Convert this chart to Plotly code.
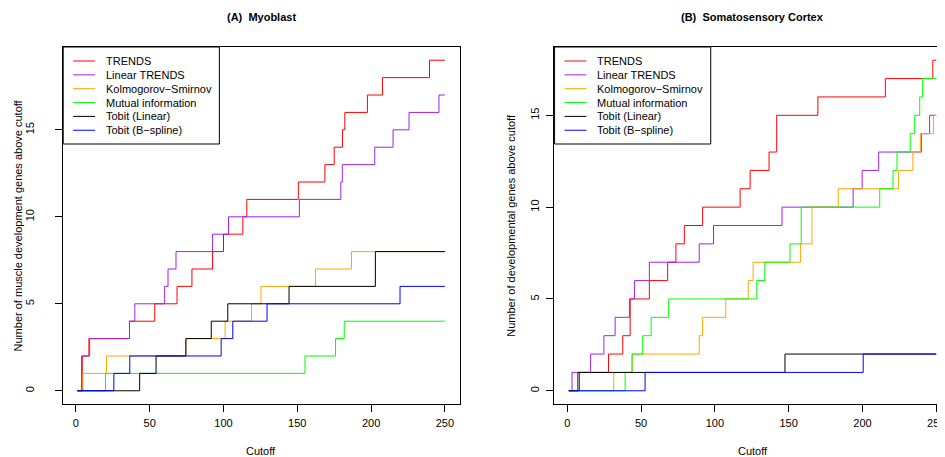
import plotly.graph_objects as go

# ---------------- data ----------------
series_names = ["TRENDS", "Linear TRENDS", "Kolmogorov\u2212Smirnov",
                "Mutual information", "Tobit (Linear)", "Tobit (B\u2212spline)"]
series_colors = ["#FF0000", "#A020F0", "#FFA500", "#00FF00", "#000000", "#0000FF"]

# Panel A: Myoblast  (cutoff at which count changes, count)
a_trends_x = [1, 4.3, 8.8, 36.3, 53.4, 68.5, 78.6, 92.6, 100, 113.1, 115.8, 150.7, 168.7, 175, 180.6, 182.2, 197.5, 207.7, 239.6, 250]
a_trends_y = [0, 2, 3, 4, 5, 6, 7, 8, 9, 10, 11, 12, 13, 14, 15, 16, 17, 18, 19, 19]
a_lintrends_x = [1, 3.8, 9.3, 36.3, 39.9, 60.1, 62.4, 67.8, 92.6, 103.4, 151.4, 179.5, 180.5, 202.5, 214.9, 225.7, 246, 250]
a_lintrends_y = [0, 2, 3, 4, 5, 6, 7, 8, 9, 10, 11, 12, 13, 14, 15, 16, 17, 17]
a_ks_x = [1, 4.7, 20.7, 74.5, 101.1, 119, 125.4, 162.4, 186.7, 250]
a_ks_y = [0, 1, 2, 3, 4, 5, 6, 7, 8, 8]
a_mi_x = [1, 20, 155.2, 175.9, 181.8, 250]
a_mi_y = [0, 1, 2, 3, 4, 4]
a_tobitlin_x = [1, 43.2, 54.3, 74.5, 91.7, 102.9, 144.4, 202.9, 250]
a_tobitlin_y = [0, 1, 2, 3, 4, 5, 6, 8, 8]
a_tobitbs_x = [1, 25.7, 36.5, 98.4, 106.3, 129.5, 219.6, 250]
a_tobitbs_y = [0, 1, 2, 3, 4, 5, 6, 6]

# Panel B: Somatosensory Cortex
b_trends_x = [1, 8.3, 27.9, 37.6, 42.6, 55.6, 68, 73.6, 79.3, 91.7, 117.1, 123.9, 136.7, 141.9, 169.8, 215.5, 247.7, 250]
b_trends_y = [0, 1, 2, 3, 5, 6, 7, 8, 9, 10, 11, 12, 13, 15, 16, 17, 18, 18]
b_lintrends_x = [1, 3.2, 15.8, 24.8, 32.4, 42.1, 45.5, 55.6, 89.4, 99.1, 145.5, 193.7, 199.8, 211, 239.9, 245.5, 250]
b_lintrends_y = [0, 1, 2, 3, 4, 5, 6, 7, 8, 9, 10, 11, 12, 13, 14, 15, 15]
b_ks_x = [1, 31.5, 43.9, 89.4, 91.7, 107.4, 122.6, 125.9, 158.1, 165.8, 183.6, 224.5, 234.2, 239.2, 248.2, 250]
b_ks_y = [0, 1, 2, 3, 4, 5, 6, 7, 8, 10, 11, 12, 13, 14, 15, 15]
b_mi_x = [1, 39.2, 43.9, 51.1, 56.8, 68.7, 128.4, 133.8, 150.9, 158.5, 211.7, 220.7, 223.4, 232.4, 235.4, 238.8, 240.8, 250]
b_mi_y = [0, 1, 2, 3, 4, 5, 6, 7, 8, 10, 11, 12, 13, 14, 15, 16, 17, 17]
b_tobitlin_x = [1, 7.2, 147.5, 250]
b_tobitlin_y = [0, 1, 2, 2]
b_tobitbs_x = [1, 52.7, 200.5, 250]
b_tobitbs_y = [0, 1, 2, 2]

x_ticks = [0, 50, 100, 150, 200, 250]
y_ticks = [0, 5, 10, 15]
panel_titles = ["<b>(A)\u00a0 Myoblast</b>", "<b>(B)\u00a0 Somatosensory Cortex</b>"]
y_titles = ["Number of muscle development genes above cutoff",
            "Number of developmental genes above cutoff"]
x_title = "Cutoff"

panel_a = [(a_trends_x, a_trends_y), (a_lintrends_x, a_lintrends_y), (a_ks_x, a_ks_y),
           (a_mi_x, a_mi_y), (a_tobitlin_x, a_tobitlin_y), (a_tobitbs_x, a_tobitbs_y)]
panel_b = [(b_trends_x, b_trends_y), (b_lintrends_x, b_lintrends_y), (b_ks_x, b_ks_y),
           (b_mi_x, b_mi_y), (b_tobitlin_x, b_tobitlin_y), (b_tobitbs_x, b_tobitbs_y)]

# ---------------- layout geometry ----------------
PAGE_W, PAGE_H = 945, 457
OFF = 8  # default page body margin
W, H = PAGE_W - OFF, PAGE_H - OFF
FONT = "Liberation Sans, Arial, Helvetica, sans-serif"


def px(x):
    """page pixel x -> paper fraction"""
    return (x - OFF) / W


def py(y):
    """page pixel y -> paper fraction"""
    return 1 - (y - OFF) / H


box_top, box_bot = 47, 404
a_left, a_right = 63, 462
b_left = 557
b_width = 399
scale = b_width / (259.96 + 8.96)

fig = go.Figure()
for (xs, ys), name, col in zip(panel_a, series_names, series_colors):
    fig.add_trace(go.Scatter(x=xs, y=ys, mode="lines", name=name, showlegend=False,
                             line=dict(color=col, width=1, shape="hv"),
                             xaxis="x", yaxis="y", hoverinfo="skip"))
for (xs, ys), name, col in zip(panel_b, series_names, series_colors):
    fig.add_trace(go.Scatter(x=xs, y=ys, mode="lines", name=name, showlegend=False,
                             line=dict(color=col, width=1, shape="hv"),
                             xaxis="x2", yaxis="y2", hoverinfo="skip"))

axis_common = dict(showgrid=False, zeroline=False, showline=True, linecolor="black",
                   linewidth=1, ticks="outside", ticklen=7, tickcolor="black",
                   tickwidth=1, tickfont=dict(family=FONT, size=11, color="black"))

fig.update_layout(
    width=W, height=H, margin=dict(l=0, r=0, t=0, b=0),
    paper_bgcolor="white", plot_bgcolor="white",
    font=dict(family=FONT, size=11, color="black"),
    xaxis=dict(domain=[px(a_left), px(a_right)], range=[-8.96, 259.96], tickvals=x_ticks,
               mirror=True, anchor="y", ticklabelstandoff=2, **axis_common),
    yaxis=dict(domain=[py(box_bot), py(box_top)], range=[-0.76, 19.76], tickvals=y_ticks,
               tickangle=-90, mirror=True, anchor="x", ticklabelstandoff=16, **axis_common),
    xaxis2=dict(domain=[px(b_left), 1.0], range=[-8.96, -8.96 + (PAGE_W - b_left) / scale],
                tickvals=x_ticks, mirror=True, anchor="y2", ticklabelstandoff=2,
                ticklabeloverflow="allow", **axis_common),
    yaxis2=dict(domain=[py(box_bot), py(box_top)], range=[-0.72, 18.72], tickvals=y_ticks,
                tickangle=-90, mirror=False, anchor="x2", ticklabelstandoff=3, **axis_common),
)

annotations = []
shapes = []
centers = [(a_left + a_right) / 2, b_left + b_width / 2]
lefts = [a_left, b_left]
ylab_x = [18, 513]
for i in range(2):
    annotations.append(dict(text=panel_titles[i], x=px(centers[i]), y=py(17), xref="paper",
                            yref="paper", showarrow=False, xanchor="center", yanchor="middle",
                            font=dict(family=FONT, size=11)))
    annotations.append(dict(text=x_title, x=px(centers[i]), y=py(451), xref="paper",
                            yref="paper", showarrow=False, xanchor="center", yanchor="middle",
                            font=dict(family=FONT, size=11)))
    annotations.append(dict(text=y_titles[i], x=px(ylab_x[i]), y=py((box_top + box_bot) / 2),
                            xref="paper", yref="paper", showarrow=False, textangle=-90,
                            xanchor="center", yanchor="middle", font=dict(family=FONT, size=11)))
    # legend box
    lx = lefts[i] + 0.5
    shapes.append(dict(type="rect", xref="paper", yref="paper", x0=px(lx), x1=px(lx + 157),
                       y0=py(box_top), y1=py(box_top + 97), line=dict(color="black", width=1),
                       fillcolor="white", layer="above"))
    for k, (name, col) in enumerate(zip(series_names, series_colors)):
        ry = 61 + k * 13.85
        shapes.append(dict(type="line", xref="paper", yref="paper", x0=px(lx + 10),
                           x1=px(lx + 32), y0=py(ry), y1=py(ry),
                           line=dict(color=col, width=1), layer="above"))
        annotations.append(dict(text=name, x=px(lx + 41), y=py(ry), xref="paper",
                                yref="paper", showarrow=False, xanchor="left",
                                yanchor="middle", font=dict(family=FONT, size=11)))

fig.update_layout(annotations=annotations, shapes=shapes)
fig.write_html("out.html")
